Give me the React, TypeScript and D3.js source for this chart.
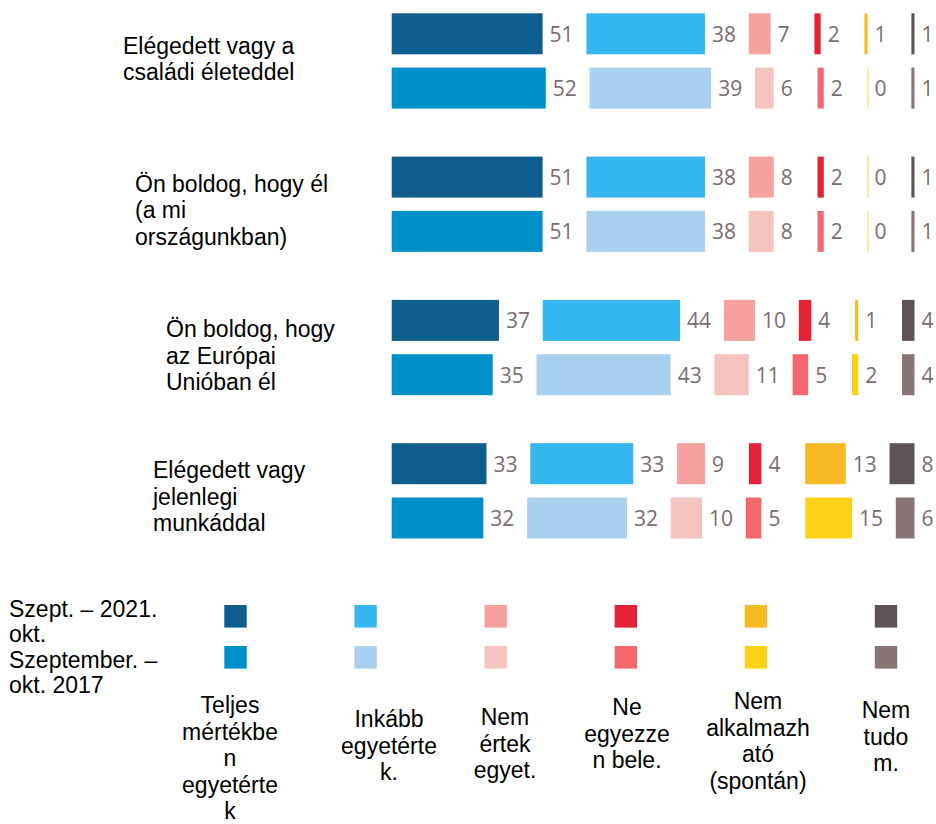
import React from "react";
import * as d3 from "d3";

// ---- data ----
const questionLines: string[][] = [
  ["Elégedett vagy a", "családi életeddel"],
  ["Ön boldog, hogy él", "(a mi", "országunkban)"],
  ["Ön boldog, hogy", "az Európai", "Unióban él"],
  ["Elégedett vagy", "jelenlegi", "munkáddal"],
];

const categoryLines: string[][] = [
  ["Teljes", "mértékbe", "n", "egyetérte", "k"],
  ["Inkább", "egyetérte", "k."],
  ["Nem", "értek", "egyet."],
  ["Ne", "egyezze", "n bele."],
  ["Nem", "alkalmazh", "ató", "(spontán)"],
  ["Nem", "tudo", "m."],
];

const seriesLabelLines: string[] = ["Szept. – 2021.", "okt.", "Szeptember. –", "okt. 2017"];

const values2021: number[][] = [
  [51, 38, 7, 2, 1, 1],
  [51, 38, 8, 2, 0, 1],
  [37, 44, 10, 4, 1, 4],
  [33, 33, 9, 4, 13, 8],
];

const values2017: number[][] = [
  [52, 39, 6, 2, 0, 1],
  [51, 38, 8, 2, 0, 1],
  [35, 43, 11, 5, 2, 4],
  [32, 32, 10, 5, 15, 6],
];

// ---- styles / layout ----
const colors2021 = ["#0f5d8c", "#36b6ee", "#f4a19f", "#e32236", "#f7b924", "#5f535a"];
const colors2017 = ["#0090c9", "#a9d0ef", "#f5c4c1", "#f4676f", "#fdd216", "#877576"];

const labelX = [123, 135, 166, 153];
const labelDy = [0, 8, 10, 8];
const legendTextX = [230, 389, 505, 627, 758, 886];
const legendTextY = [713, 727, 725, 715, 709, 718];

const W = 936;
const H = 824;
const X0 = 383.5;
const GAP = 43.8;
const CLIP_LEFT = 391.7;
const BAR_H = 41;
const ROW_OFF = 54.3;
const LH = 26.5;

const LABEL_FONT = "'Liberation Sans', Arial, sans-serif";
const NUM_FONT = "'Open Sans', 'Noto Sans', sans-serif";

export default function App() {
  const x = d3.scaleLinear().domain([0, 100]).range([0, 312]);
  const yGroup = d3
    .scaleLinear()
    .domain([0, questionLines.length - 1])
    .range([13.3, 13.3 + 3 * 143.3]);
  const legendX = d3.scaleLinear().domain([0, 5]).range([235.5, 886]);

  const rows: { vals: number[]; colors: string[]; y: number; key: string }[] = [];
  questionLines.forEach((_, gi) => {
    rows.push({ vals: values2021[gi], colors: colors2021, y: yGroup(gi), key: `a${gi}` });
    rows.push({ vals: values2017[gi], colors: colors2017, y: yGroup(gi) + ROW_OFF, key: `b${gi}` });
  });

  return (
    <svg
      width={W}
      height={H}
      style={{ position: "absolute", left: 0, top: 0, background: "#fff" }}
    >
      {/* bars */}
      {rows.map((row) => {
        let cum = 0;
        return (
          <g key={row.key}>
            {row.vals.map((v, i) => {
              const start = X0 + x(cum) + i * GAP;
              const end = start + x(v);
              cum += v;
              const left = i === 0 ? Math.max(start, CLIP_LEFT) : start;
              const w = Math.max(end - left, v === 0 ? 1 : 0);
              return (
                <g key={i}>
                  <rect
                    x={left}
                    y={row.y}
                    width={w}
                    height={BAR_H}
                    fill={row.colors[i]}
                    opacity={v === 0 ? 0.8 : 1}
                  />
                  <text
                    x={end + 7}
                    y={row.y + BAR_H / 2 + 8}
                    fontFamily={NUM_FONT}
                    fontSize={21}
                    fill="#7a6d70"
                  >
                    {v}
                  </text>
                </g>
              );
            })}
          </g>
        );
      })}

      {/* question labels */}
      {questionLines.map((lines, gi) => {
        const center = yGroup(gi) + (ROW_OFF + BAR_H) / 2;
        const first = center - ((lines.length - 1) / 2) * LH + 6 + labelDy[gi];
        return (
          <text
            key={gi}
            x={labelX[gi]}
            y={first}
            fontFamily={LABEL_FONT}
            fontSize={23}
            fill="#000"
          >
            {lines.map((l, li) => (
              <tspan key={li} x={labelX[gi]} y={first + li * LH}>
                {l}
              </tspan>
            ))}
          </text>
        );
      })}

      {/* legend: series */}
      <text x={9} y={617} fontFamily={LABEL_FONT} fontSize={23} fill="#000">
        {seriesLabelLines.map((l, i) => (
          <tspan key={i} x={9} y={617 + i * 25.3}>
            {l}
          </tspan>
        ))}
      </text>

      {/* legend: swatches */}
      {categoryLines.map((_, i) => (
        <g key={i}>
          <rect x={legendX(i) - 11.2} y={605} width={22.4} height={22.6} fill={colors2021[i]} />
          <rect x={legendX(i) - 11.2} y={646} width={22.4} height={22.6} fill={colors2017[i]} />
        </g>
      ))}

      {/* legend: category text */}
      {categoryLines.map((lines, i) => (
        <text
          key={i}
          textAnchor="middle"
          fontFamily={LABEL_FONT}
          fontSize={23}
          fill="#000"
        >
          {lines.map((l, li) => (
            <tspan key={li} x={legendTextX[i]} y={legendTextY[i] + li * LH}>
              {l}
            </tspan>
          ))}
        </text>
      ))}
    </svg>
  );
}
